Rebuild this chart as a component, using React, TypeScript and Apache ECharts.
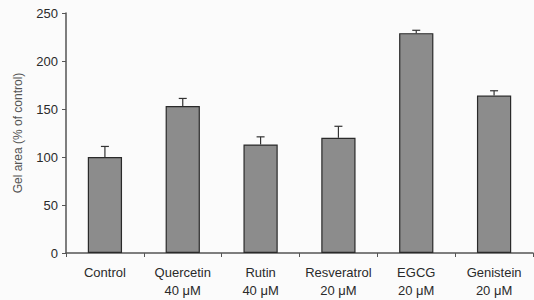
import React, { useEffect, useRef } from "react";
import * as echarts from "echarts";

const categories = ["Control\n", "Quercetin\n40 μM", "Rutin\n40 μM", "Resveratrol\n20 μM", "EGCG\n20 μM", "Genistein\n20 μM"];
const values = [100, 153, 113, 120, 229, 164];
const errors = [11, 8, 8, 12, 3, 5];
const yTicks = [0, 50, 100, 150, 200, 250];

export default function App() {
  const ref = useRef<HTMLDivElement>(null);
  useEffect(() => {
    document.body.style.margin = "0";
    const chart = echarts.init(ref.current!, undefined, { renderer: "svg" });
    const errData = values.map((v, i) => [i, v, v + errors[i]]);
    chart.setOption({
      animation: false,
      backgroundColor: "#fbfbfb",
      grid: { left: 66, right: 1, top: 13, bottom: 47 },
      xAxis: {
        type: "category",
        data: categories,
        axisLine: { lineStyle: { color: "#555", width: 1.5 } },
        axisTick: { show: true, alignWithLabel: false, length: 4, lineStyle: { color: "#555" } },
        axisLabel: {
          color: "#2a2a2a",
          fontFamily: "Liberation Sans, Arial",
          fontSize: 13,
          lineHeight: 17.5,
          margin: 11,
          interval: 0,
        },
      },
      yAxis: {
        type: "value",
        min: yTicks[0],
        max: yTicks[yTicks.length - 1],
        interval: 50,
        name: "Gel area (% of control)",
        nameLocation: "middle",
        nameGap: 42,
        nameTextStyle: { color: "#555", fontFamily: "Liberation Sans, Arial", fontSize: 12 },
        axisLine: { show: true, lineStyle: { color: "#555", width: 1.5 } },
        axisTick: { show: true, length: 4, lineStyle: { color: "#555" } },
        axisLabel: { color: "#2a2a2a", fontFamily: "Liberation Sans, Arial", fontSize: 13, margin: 8 },
        splitLine: { show: false },
      },
      series: [
        {
          type: "bar",
          data: values,
          barWidth: "44%",
          itemStyle: { color: "#8c8c8c", borderColor: "#2a2a2a", borderWidth: 1.2 },
          z: 2,
        },
        {
          type: "custom",
          data: errData,
          z: 3,
          renderItem: (params: any, api: any) => {
            const x = api.value(0);
            const lo = api.coord([x, api.value(1)]);
            const hi = api.coord([x, api.value(2)]);
            const hw = 4;
            return {
              type: "group",
              children: [
                { type: "line", shape: { x1: lo[0], y1: lo[1], x2: hi[0], y2: hi[1] }, style: { stroke: "#333", lineWidth: 1.2 } },
                { type: "line", shape: { x1: hi[0] - hw, y1: hi[1], x2: hi[0] + hw, y2: hi[1] }, style: { stroke: "#333", lineWidth: 1.2 } },
              ],
            };
          },
        },
      ],
    });
    return () => chart.dispose();
  }, []);
  return <div ref={ref} style={{ width: 534, height: 300 }} />;
}
